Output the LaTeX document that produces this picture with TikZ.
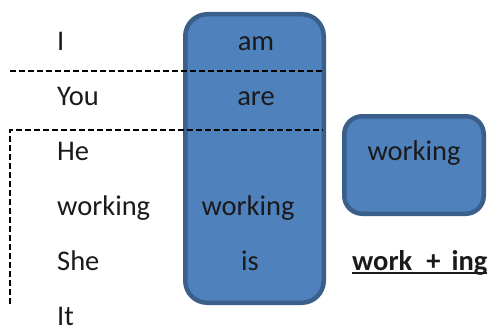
\documentclass[tikz,border=0pt]{standalone}
\usepackage{fontspec}
\setmainfont{Carlito}
\definecolor{boxfill}{HTML}{4F81BD}
\definecolor{boxborder}{HTML}{3A5F8B}
\definecolor{ink}{HTML}{1A1A1A}
\newcommand{\ulbar}[1]{{\setbox0\hbox{#1}\rlap{\rule[-3.5pt]{\wd0}{1.8pt}}\box0}}
\begin{document}
\begin{tikzpicture}[x=1pt,y=-1pt,
  txt/.style={font=\fontsize{28.5}{30}\selectfont, text=ink, inner sep=0pt},
  bluebox/.style={draw=boxborder, fill=boxfill, line width=4.5pt, rounded corners=22pt, inner sep=0pt},
  dashline/.style={dash pattern=on 6pt off 3pt, line width=1.6pt, draw=black}]
\useasboundingbox (0,0) rectangle (494,329);
% boxes
\node[bluebox, minimum width=138.5pt, minimum height=288.5pt] (big) at (254.5,158.5) {};
\node[bluebox, rounded corners=18pt, minimum width=139.5pt, minimum height=97.5pt] (small) at (414,165) {};
% dashed separators
\coordinate (d1a) at (10,71);
\coordinate (d1b) at (323,71);
\coordinate (d2a) at (10,130);
\coordinate (d2b) at (323,130);
\coordinate (d2c) at (10,304);
\draw[dashline] (d1a) -- (d1b);
\draw[dashline] (d2c) -- (d2a) -- (d2b);
% left column
\node[txt, anchor=base west] (tI) at (57,50) {I};
\node[txt, anchor=base west] (tYou) at (57,105.2) {You};
\node[txt, anchor=base west] (tHe) at (57,160.4) {He};
\node[txt, anchor=base west] (tWorking) at (57,215.6) {working};
\node[txt, anchor=base west] (tShe) at (57,270.8) {She};
\node[txt, anchor=base west] (tIt) at (57,325) {It};
% inside big box
\node[txt, anchor=base] (bAm) at (256,50) {am};
\node[txt, anchor=base] (bAre) at (256,105.2) {are};
\node[txt, anchor=base] (bWorking) at (248,215.6) {working};
\node[txt, anchor=base] (bIs) at (250,270.8) {is};
% small box
\node[txt, anchor=base] (sWorking) at (414,160.4) {working};
% formula
\node[txt, font=\fontsize{28.5}{30}\selectfont\bfseries, anchor=base west] (rule) at (352,270) {\ulbar{work\hspace{14pt}+\hspace{11pt}ing}};
\end{tikzpicture}
\end{document}
